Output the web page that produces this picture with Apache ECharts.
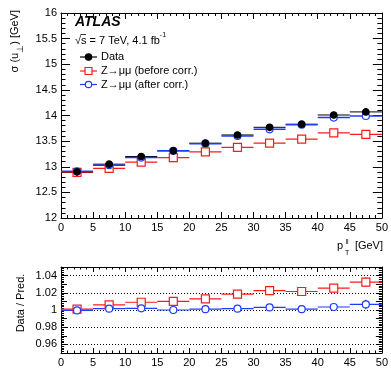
<!DOCTYPE html>
<html>
<head>
<meta charset="utf-8">
<script src="https://cdn.jsdelivr.net/npm/echarts@6/dist/echarts.min.js"></script>
<style>
  html, body { margin: 0; padding: 0; background: #fff; }
  #chart { width: 391px; height: 368px; }
</style>
</head>
<body>
<div id="chart"></div>
<script>
// bin edges in pT(ll) [GeV]
const binEdges = [0, 5, 10, 15, 20, 25, 30, 35, 40, 45, 50];

// sigma(u_perp) [GeV], upper panel
const dataSigma = [12.90, 13.05, 13.20, 13.31, 13.46, 13.62, 13.77, 13.83, 14.01, 14.07];
const beforeSigma = [12.89, 12.97, 13.09, 13.18, 13.29, 13.38, 13.46, 13.54, 13.66, 13.63];
const afterSigma = [12.91, 13.03, 13.18, 13.31, 13.45, 13.60, 13.73, 13.82, 13.96, 13.99];

// Data / Pred., lower panel
const ratioBefore = [1.001, 1.006, 1.009, 1.010, 1.013, 1.0185, 1.0225, 1.0215, 1.0255, 1.0325];
const ratioAfter = [0.9995, 1.0015, 1.002, 1.000, 1.001, 1.0015, 1.003, 1.001, 1.0035, 1.0065];
const ratioErr = [0.001, 0.001, 0.0015, 0.0015, 0.002, 0.0025, 0.003, 0.003, 0.0045, 0.0055];
const ratioGridLines = [0.96, 0.98, 1.0, 1.02, 1.04];

const RED = "#ff1a1a";
const BLUE = "#1a3cff";
const FONT = "Liberation Sans";

const centers = binEdges.slice(0, -1).map((e, i) => (e + binEdges[i + 1]) / 2);
const halfBin = (binEdges[1] - binEdges[0]) / 2;

const pts = (ys, errs) => centers.map((x, i) => [x, ys[i], errs ? errs[i] : 0]);

// horizontal bin-width bars (+ optional vertical error)
function binBars(color, width) {
  return function (params, api) {
    const x = api.value(0), y = api.value(1), e = api.value(2);
    const a = api.coord([x - halfBin, y]);
    const b = api.coord([x + halfBin, y]);
    const kids = [{
      type: "line",
      shape: { x1: a[0], y1: a[1], x2: b[0], y2: b[1] },
      style: { stroke: color, lineWidth: width },
    }];
    if (e) {
      const t = api.coord([x, y + e]), d = api.coord([x, y - e]);
      kids.push({
        type: "line",
        shape: { x1: t[0], y1: t[1], x2: d[0], y2: d[1] },
        style: { stroke: color, lineWidth: width },
      });
    }
    return { type: "group", children: kids };
  };
}

function barsSeries(xi, yi, data, color, width) {
  return {
    type: "custom", xAxisIndex: xi, yAxisIndex: yi, silent: true,
    renderItem: binBars(color, width), data: data, z: 2,
  };
}

function markSeries(xi, yi, data, symbol, size, fill, stroke, z) {
  return {
    type: "scatter", xAxisIndex: xi, yAxisIndex: yi, silent: true,
    symbol: symbol, symbolSize: size, data: data, z: z,
    itemStyle: { color: fill, borderColor: stroke, borderWidth: 1.2, opacity: 1 },
  };
}

const tickLabel = { color: "#000", fontFamily: FONT, fontSize: 11 };

function xAx(grid, pos, labels, tickLen) {
  return {
    type: "value", gridIndex: grid, position: pos, min: 0, max: 50, interval: 5,
    axisLine: { show: true, onZero: false, lineStyle: { color: "#000", width: 1 } },
    axisTick: { show: true, inside: true, length: tickLen, lineStyle: { color: "#000" } },
    minorTick: { show: true, splitNumber: 5, length: tickLen / 2, lineStyle: { color: "#000" } },
    axisLabel: Object.assign({ show: labels, margin: 4 }, tickLabel),
    splitLine: { show: false },
  };
}

function yAx(grid, pos, labels, min, max, interval, tickLen, fmt) {
  return {
    type: "value", gridIndex: grid, position: pos, min: min, max: max, interval: interval,
    axisLine: { show: true, onZero: false, lineStyle: { color: "#000", width: 1 } },
    axisTick: { show: true, inside: true, length: tickLen, lineStyle: { color: "#000" } },
    minorTick: { show: true, splitNumber: 5, length: tickLen / 2, lineStyle: { color: "#000" } },
    axisLabel: Object.assign({ show: labels, margin: 4, formatter: fmt }, tickLabel),
    splitLine: { show: false },
  };
}

const ratioFmt = (v) => {
  const k = Math.round(v * 100);
  return k % 2 === 0 && k >= 96 && k <= 104 ? String(+v.toFixed(2)) : "";
};

// legend samples drawn as graphic (not data)
function legendRow(y, color, symbol, fill, text) {
  const items = [{
    type: "line", shape: { x1: 80, y1: y, x2: 97, y2: y },
    style: { stroke: color, lineWidth: 1.2 },
  }];
  if (symbol === "circle") {
    items.push({ type: "circle", shape: { cx: 88.5, cy: y, r: 3.2 }, style: { fill: fill, stroke: color, lineWidth: 1.2 } });
  } else {
    items.push({ type: "rect", shape: { x: 85, y: y - 3.5, width: 7, height: 7 }, style: { fill: fill, stroke: color, lineWidth: 1.2 } });
  }
  items.push({
    type: "text", x: 101, y: y,
    style: { text: text, fontFamily: FONT, fontSize: 11, fill: "#000", textVerticalAlign: "middle" },
  });
  return items;
}

const chart = echarts.init(document.getElementById("chart"), null, { renderer: "canvas" });

chart.setOption({
  animation: false,
  backgroundColor: "#fff",
  grid: [
    { left: 61, right: 8, top: 13, height: 205 },
    { left: 61, right: 8, top: 267, height: 88 },
  ],
  xAxis: [
    xAx(0, "bottom", true, 6),
    xAx(0, "top", false, 6),
    xAx(1, "bottom", true, 5),
    xAx(1, "top", false, 5),
  ],
  yAxis: [
    yAx(0, "left", true, 12, 16, 0.5, 9, null),
    yAx(0, "right", false, 12, 16, 0.5, 9, null),
    yAx(1, "left", true, 0.95, 1.05, 0.01, 6, ratioFmt),
    yAx(1, "right", false, 0.95, 1.05, 0.01, 6, ratioFmt),
  ],
  series: [
    // dotted reference lines in the ratio panel, drawn below the points
    {
      type: "scatter", xAxisIndex: 2, yAxisIndex: 2, silent: true, data: [], z: 1,
      markLine: {
        silent: true, symbol: "none", label: { show: false }, animation: false, z: 1,
        lineStyle: { color: "#000", type: [1, 2], width: 1 },
        data: ratioGridLines.map((v) => ({ yAxis: v })),
      },
    },
    // upper panel
    barsSeries(0, 0, pts(beforeSigma), RED, 1.2),
    barsSeries(0, 0, pts(dataSigma), "#000", 1),
    barsSeries(0, 0, pts(afterSigma), BLUE, 1.5),
    markSeries(0, 0, pts(beforeSigma), "rect", 8, "#fff", RED, 4),
    markSeries(0, 0, pts(afterSigma), "circle", 7, "#fff", BLUE, 5),
    markSeries(0, 0, pts(dataSigma), "circle", 6.5, "#000", "#000", 6),
    // lower panel
    barsSeries(2, 2, pts(ratioBefore, ratioErr), RED, 1.2),
    barsSeries(2, 2, pts(ratioAfter, ratioErr), BLUE, 1.2),
    markSeries(2, 2, pts(ratioBefore), "rect", 8, "#fff", RED, 4),
    markSeries(2, 2, pts(ratioAfter), "circle", 7, "#fff", BLUE, 5),
  ],
  graphic: [
    {
      type: "text", x: 75, y: 22,
      style: { text: "ATLAS", fontFamily: FONT, fontSize: 14, fontWeight: "bold", fontStyle: "italic", fill: "#000", textVerticalAlign: "middle" },
    },
    {
      type: "text", x: 75, y: 41,
      style: {
        text: "{a|√s = 7 TeV, 4.1 fb}{s|-1}",
        textVerticalAlign: "middle",
        rich: {
          a: { fontFamily: FONT, fontSize: 11, fill: "#000", lineHeight: 18, verticalAlign: "middle" },
          s: { fontFamily: FONT, fontSize: 7, fill: "#000", lineHeight: 8, verticalAlign: "top" },
        },
      },
    },
    {
      type: "line", shape: { x1: 80.5, y1: 34.5, x2: 86, y2: 34.5 },
      style: { stroke: "#000", lineWidth: 0.8 },
    },
    ...legendRow(57, "#000", "circle", "#000", "Data"),
    ...legendRow(71, RED, "rect", "#fff", "Z→μμ (before corr.)"),
    ...legendRow(84.5, BLUE, "circle", "#fff", "Z→μμ (after corr.)"),
    {
      type: "text", x: 15, y: 10, rotation: Math.PI / 2,
      style: {
        text: "{a|σ (u}{s|⊥}{a|) [GeV]}",
        textAlign: "right", textVerticalAlign: "middle",
        rich: {
          a: { fontFamily: FONT, fontSize: 11, fill: "#000", lineHeight: 20, verticalAlign: "middle" },
          s: { fontFamily: FONT, fontSize: 9, fill: "#000", lineHeight: 8, verticalAlign: "bottom" },
        },
      },
    },
    {
      type: "text", x: 21, y: 303, rotation: Math.PI / 2,
      style: { text: "Data / Pred.", fontFamily: FONT, fontSize: 11, fill: "#000", textAlign: "center", textVerticalAlign: "middle" },
    },
    {
      type: "text", x: 337, y: 246,
      style: { text: "p", fontFamily: FONT, fontSize: 11, fill: "#000", textVerticalAlign: "middle" },
    },
    {
      type: "text", x: 345.5, y: 242,
      style: { text: "ll", fontFamily: FONT, fontSize: 7, fill: "#000", textVerticalAlign: "middle" },
    },
    {
      type: "text", x: 345, y: 253,
      style: { text: "T", fontFamily: FONT, fontSize: 7, fill: "#000", textVerticalAlign: "middle" },
    },
    {
      type: "text", x: 383, y: 246,
      style: { text: "[GeV]", fontFamily: FONT, fontSize: 11, fill: "#000", textAlign: "right", textVerticalAlign: "middle" },
    },
  ],
});
</script>
</body>
</html>
